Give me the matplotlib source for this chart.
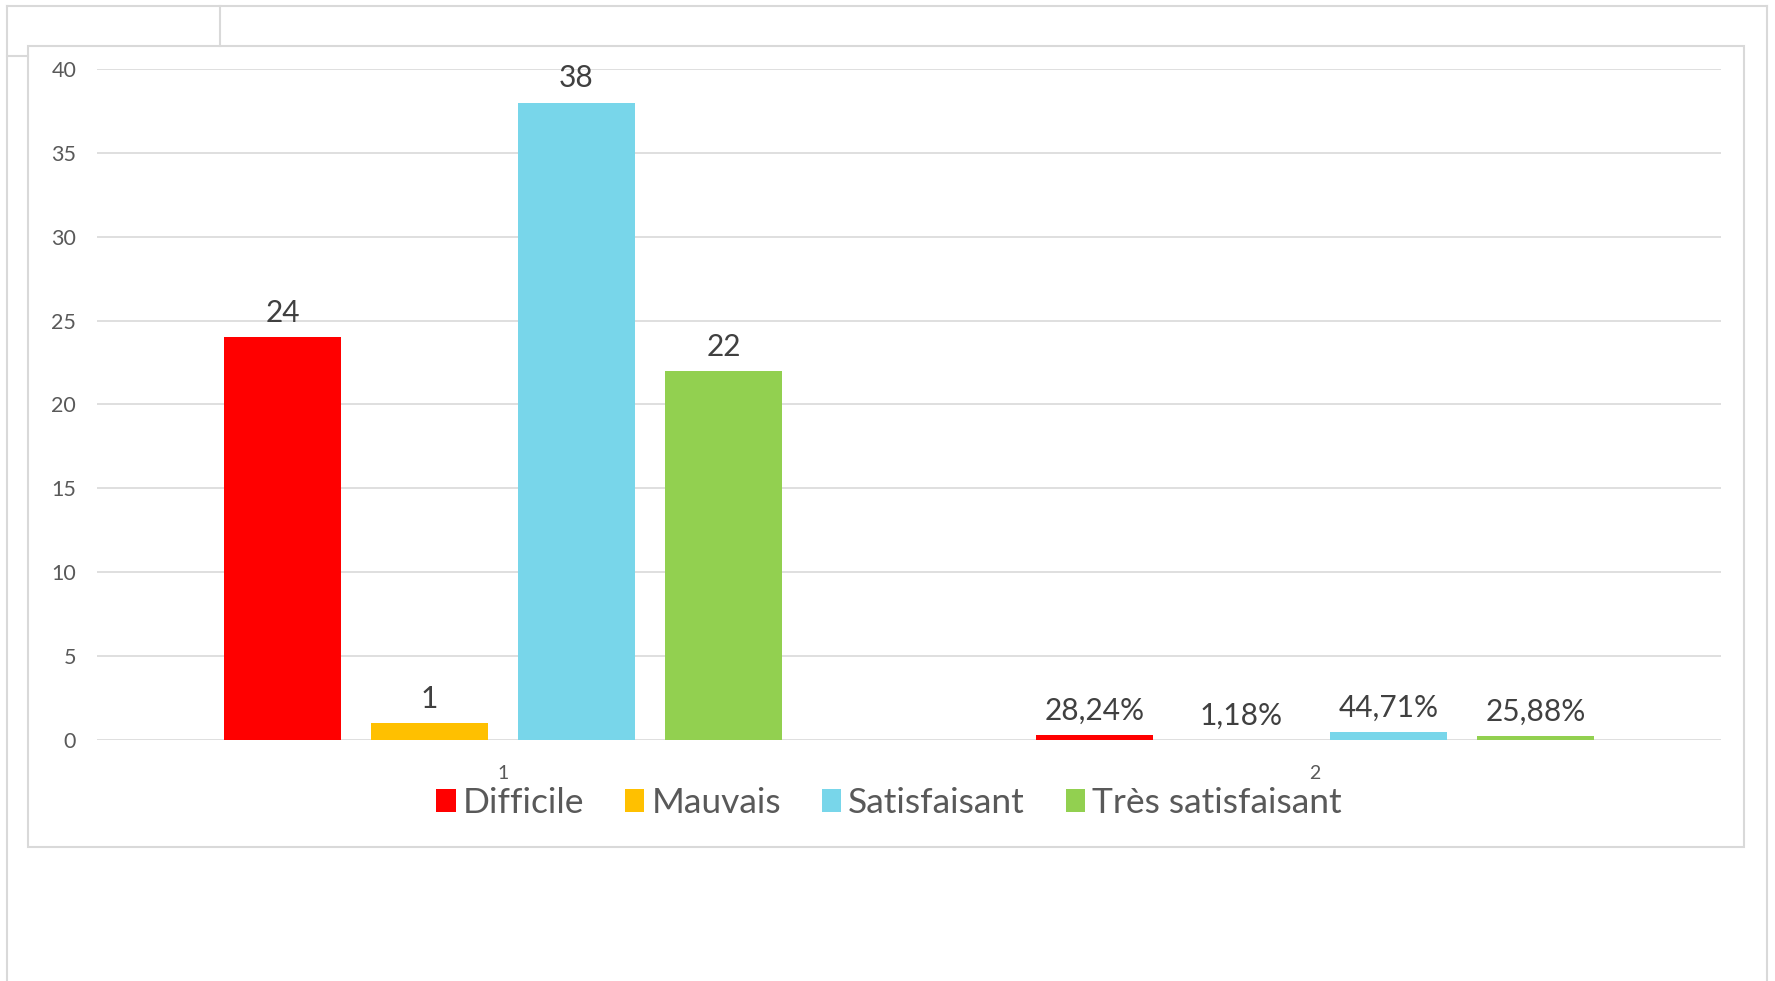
import matplotlib
matplotlib.use("Agg")
import matplotlib.pyplot as plt
from matplotlib.lines import Line2D
from matplotlib.patches import Rectangle, Patch
import numpy as np

# ---- data ----
categories = ["1", "2"]
series_names = ["Difficile", "Mauvais", "Satisfaisant", "Très satisfaisant"]
counts = [24, 1, 38, 22]
shares = [0.2824, 0.0118, 0.4471, 0.2588]
share_labels = ["28,24%", "1,18%", "44,71%", "25,88%"]
colors = ["#FF0000", "#FFC000", "#78D6EA", "#92D050"]
yticks = [0, 5, 10, 15, 20, 25, 30, 35, 40]

plt.rcParams['font.family'] = ['Lato', 'DejaVu Sans']

W, H = 1775, 981
fig = plt.figure(figsize=(W / 100, H / 100), dpi=100)
fig.patch.set_facecolor("white")

def fx(px):
    return px / W

def fy(py):
    return 1 - py / H

ax = fig.add_axes([fx(97), fy(740), fx(1721) - fx(97), fy(69) - fy(740)])

x = np.arange(len(categories))
step = 0.181
width = 0.143
offsets = (np.arange(4) - 1.5) * step

for i, name in enumerate(series_names):
    vals = [counts[i], shares[i]]
    bars = ax.bar(x + offsets[i], vals, width=width, color=colors[i], label=name, zorder=3)
    labs = [str(counts[i]), share_labels[i]]
    for b, lab in zip(bars, labs):
        ax.annotate(lab, (b.get_x() + b.get_width() / 2, b.get_height()),
                    xytext=(0, 11), textcoords="offset points",
                    ha="center", va="baseline", fontsize=21.5, color="#404040")

ax.set_xlim(-0.5, 1.5)
ax.set_ylim(0, 40)
ax.set_yticks(yticks)
ax.set_xticks(x)
ax.set_xticklabels(categories)
ax.tick_params(axis="y", length=0, pad=15, labelsize=15.5, labelcolor="#595959")
ax.tick_params(axis="x", length=0, pad=18, labelsize=14, labelcolor="#595959")
ax.grid(axis="y", color="#d9d9d9", linewidth=1.2, zorder=0)
for s in ax.spines.values():
    s.set_visible(False)
ax.set_facecolor("none")

handles = [Patch(facecolor=c, edgecolor="none") for c in colors]
leg = fig.legend(handles, series_names, loc="center", bbox_to_anchor=(fx(889), fy(803)),
                 ncol=4, frameon=False, fontsize=25.5, handlelength=0.55, handleheight=0.6,
                 handletextpad=0.2, columnspacing=1.15, labelcolor="#595959")

# ---- frame lines ----
lc = "#d9d9d9"
fig.add_artist(Rectangle((fx(28), fy(847)), fx(1744) - fx(28), fy(46) - fy(847),
                         transform=fig.transFigure, fill=False, edgecolor=lc, linewidth=1.5))
fig.add_artist(Line2D([fx(7), fx(1767)], [fy(6), fy(6)], transform=fig.transFigure, color=lc, lw=1.5))
fig.add_artist(Line2D([fx(7), fx(7)], [fy(6), 0], transform=fig.transFigure, color=lc, lw=1.5))
fig.add_artist(Line2D([fx(1767), fx(1767)], [fy(6), 0], transform=fig.transFigure, color=lc, lw=1.5))
fig.add_artist(Line2D([fx(220), fx(220)], [fy(6), fy(46)], transform=fig.transFigure, color=lc, lw=1.5))
fig.add_artist(Line2D([fx(7), fx(28)], [fy(56), fy(56)], transform=fig.transFigure, color=lc, lw=1.5))

fig.savefig("out.png", dpi=100)
